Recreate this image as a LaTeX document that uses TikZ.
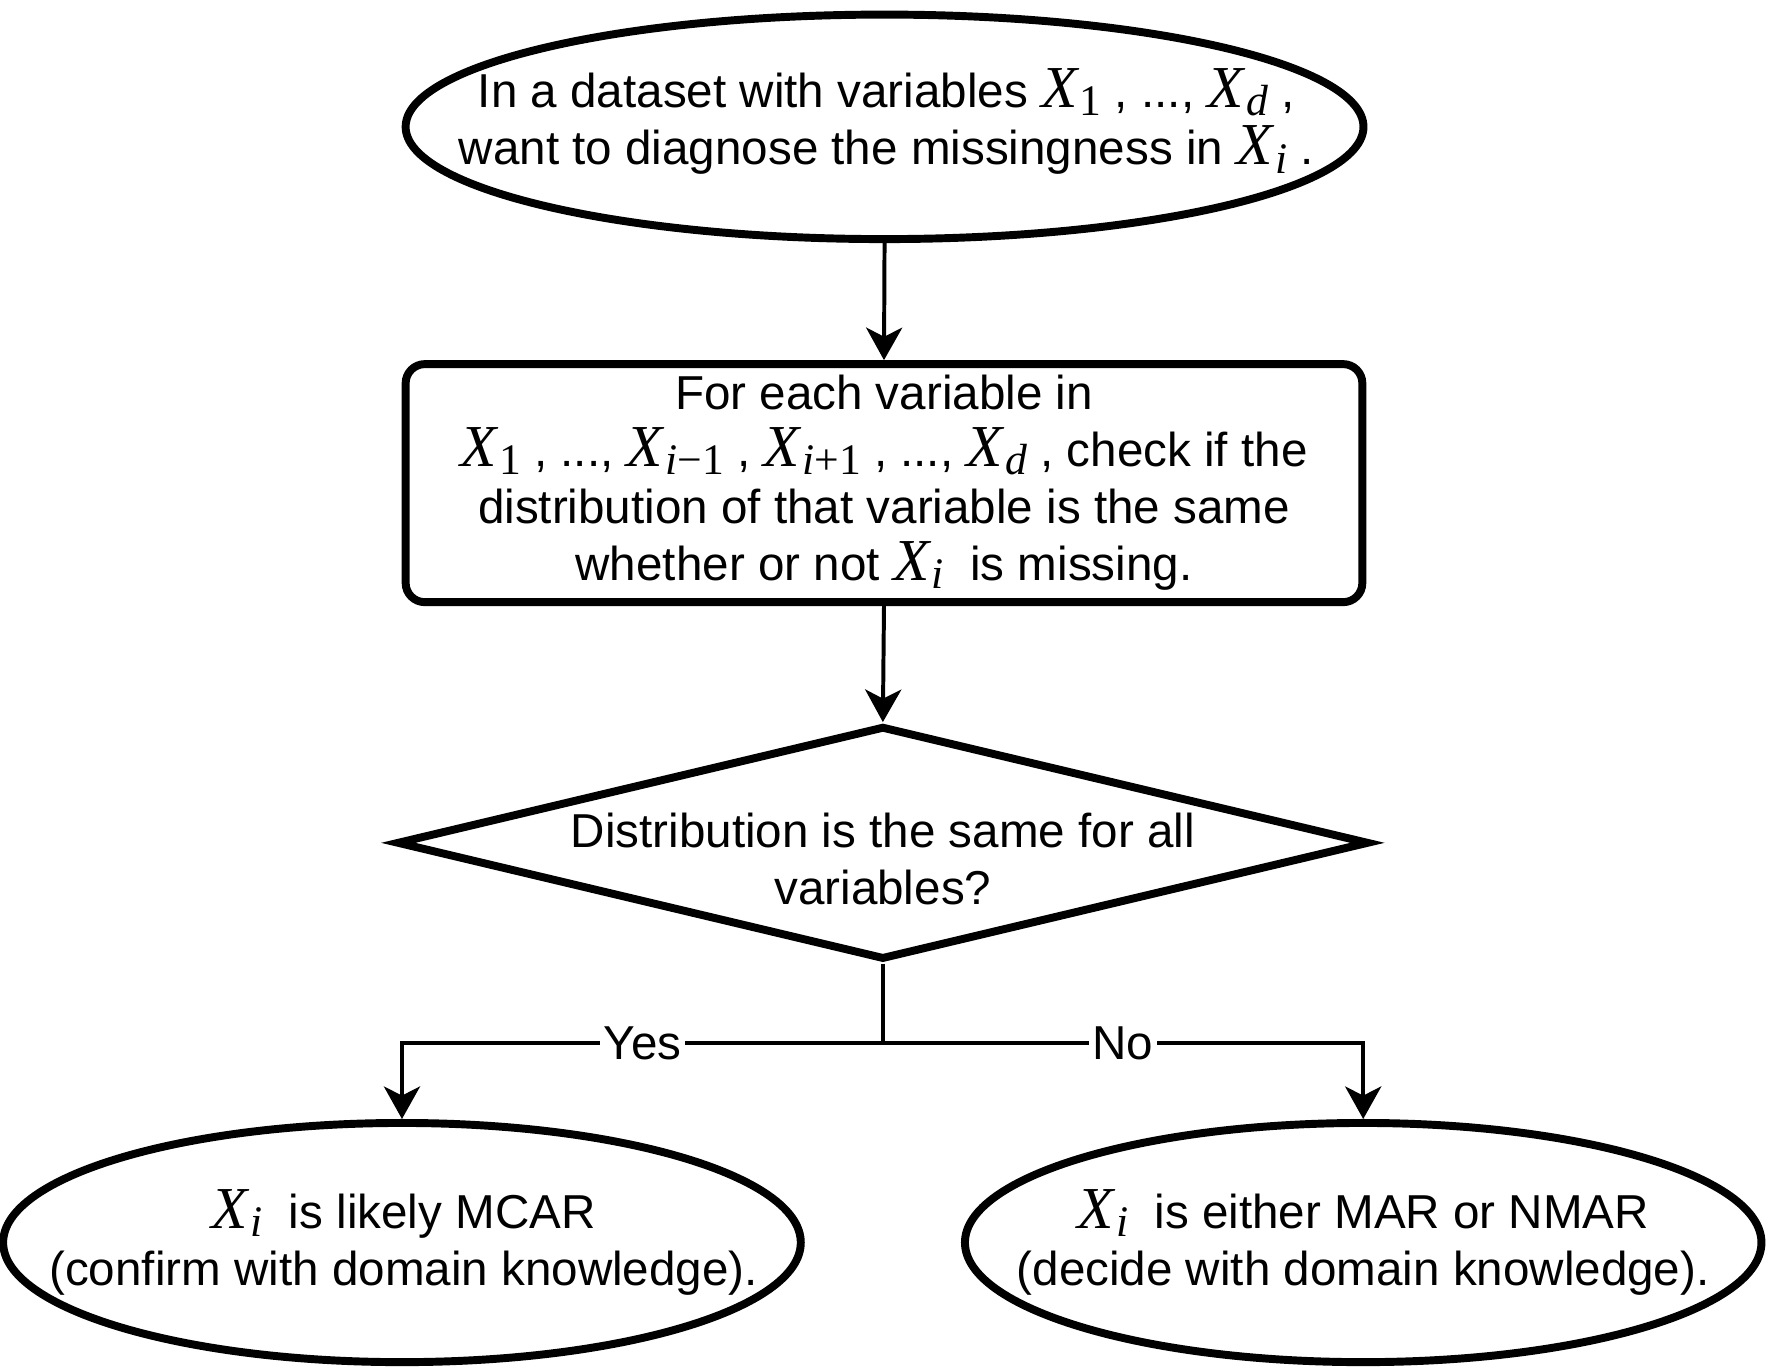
\documentclass[tikz,border=0pt]{standalone}
\usepackage{fontspec}
\setmainfont{Liberation Sans}
\newfontfamily\mserif{Liberation Serif}
\usetikzlibrary{shapes.geometric,arrows.meta}
\newcommand\mX[1]{{\mserif\fontsize{15}{15}\selectfont\itshape X\kern0.6pt\raisebox{-0.3ex}{\fontsize{11}{11}\selectfont\upshape #1}}}
\tikzset{
  shapeline/.style={draw=black, line width=2pt},
  txt/.style={align=center, font=\fontsize{12}{14.4}\selectfont, inner sep=0pt},
  conn/.style={draw=black, line width=1pt, -{Stealth[length=8.2pt,width=9.1pt,inset=2.3pt]}},
  plainconn/.style={draw=black, line width=1pt},
  lbl/.style={fill=white, font=\fontsize{12}{14.4}\selectfont, inner sep=1pt}
}
\begin{document}
\begin{tikzpicture}[x=0.01cm, y=-0.01cm]
\useasboundingbox (0,0) rectangle (1568,1213);
% top ellipse
\node (start) [shapeline, ellipse, minimum width=8.49cm, minimum height=1.99cm, inner sep=0pt] at (784.5,112.5) {};
\node (starttxt) [txt] at (786,108) {In a dataset with variables \mX{1} , ..., \mX{\textit{d}} ,\\ want to diagnose the missingness in \mX{\textit{i}} .};
% box
\node (check) [shapeline, rectangle, rounded corners=0.17cm, minimum width=8.48cm, minimum height=2.11cm, inner sep=0pt] at (784,428.5) {};
\node (checktxt) [txt] at (784,428) {For each variable in\\ \mX{1} , ..., \mX{\textit{i}−1} , \mX{\textit{i}+1} , ..., \mX{\textit{d}} , check if the\\ distribution of that variable is the same\\ whether or not \mX{\textit{i}}\ \ is missing.};
% diamond
\node (dec) [shapeline, diamond, minimum width=8.62cm, minimum height=2.07cm, inner sep=0pt] at (783,747.5) {};
\node (dectxt) [txt] at (783,762) {Distribution is the same for all\\ variables?};
% bottom ellipses
\node (mcar) [shapeline, ellipse, minimum width=7.07cm, minimum height=2.12cm, inner sep=0pt] at (356.5,1102) {};
\node (mcartxt) [txt] at (358,1102) {\mX{\textit{i}}\ \ is likely MCAR\\ (confirm with domain knowledge).};
\node (mar) [shapeline, ellipse, minimum width=7.06cm, minimum height=2.12cm, inner sep=0pt] at (1209,1102) {};
\node (martxt) [txt] at (1209,1102) {\mX{\textit{i}}\ \ is either MAR or NMAR\\ (decide with domain knowledge).};
% connectors
\coordinate (split) at (783,925);
\draw[conn] (start.south) -- (check.north);
\draw[conn] (check.south) -- (dec.north);
\draw[plainconn] (dec.south) -- (split);
\draw[conn] (split) -| (mcar.north) node[lbl, pos=0.25] {Yes};
\draw[conn] (split) -| (mar.north) node[lbl, pos=0.25] {No};
\end{tikzpicture}
\end{document}
